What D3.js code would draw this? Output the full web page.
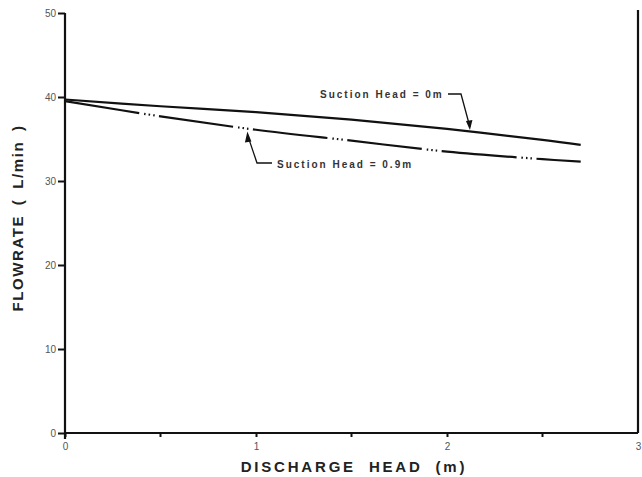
<!DOCTYPE html>
<html><head><meta charset="utf-8">
<script src="https://cdn.jsdelivr.net/npm/d3@7"></script>
<style>body{margin:0;background:#fff}svg{display:block}</style>
</head><body>
<script>
const xTicks = [0, 1, 2, 3];
const xMinor = [0.5, 1.5, 2.5];
const yTicks = [0, 10, 20, 30, 40, 50];
const head = [0, 0.5, 1, 1.5, 2, 2.5, 2.7];
const flowSuction0 = [39.7, 38.9, 38.2, 37.3, 36.2, 34.9, 34.3];
const flowSuction09 = [39.5, 37.7, 36.1, 34.8, 33.5, 32.6, 32.3];
const labels = ["Suction Head = 0m", "Suction Head = 0.9m"];

const W = 642, H = 477;
const svg = d3.select("body").append("svg").attr("width", W).attr("height", H);
const x = d3.scaleLinear().domain([0, 3]).range([65, 638]);
const y = d3.scaleLinear().domain([0, 50]).range([433, 13]);
const ink = "#111";

// axes
const gx = svg.append("g").attr("transform", `translate(0,${y(0)})`)
  .call(d3.axisBottom(x).tickValues(xTicks).tickSize(4).tickPadding(6).tickFormat(d3.format("d")));
const gy = svg.append("g").attr("transform", `translate(${x(0)},0)`)
  .call(d3.axisLeft(y).tickValues(yTicks).tickSize(7).tickPadding(2).tickFormat(d3.format("d")));
[gx, gy].forEach(g => {
  g.select(".domain").attr("stroke", ink).attr("stroke-width", 2.2);
  g.selectAll(".tick line").attr("stroke", ink).attr("stroke-width", 2);
  g.selectAll(".tick text").attr("fill", "#555").attr("font-family", "Liberation Sans, Arial, sans-serif").attr("font-size", 10);
});
gx.select(".domain").attr("d", `M${x(0)},0H${x(3)}`);
gy.select(".domain").attr("d", `M0,${y(50)}V${y(0)+6}`);
gx.selectAll(".tick").filter(d => d === 3).select("line").remove();
svg.append("g").selectAll("line").data(xMinor).join("line")
  .attr("x1", d => x(d)).attr("x2", d => x(d)).attr("y1", y(0)).attr("y2", y(0) + 4)
  .attr("stroke", ink).attr("stroke-width", 2);
// right border
svg.append("line").attr("x1", x(3)).attr("x2", x(3)).attr("y1", y(50) - 3).attr("y2", y(0))
  .attr("stroke", ink).attr("stroke-width", 2.2);

// lines
const line = d3.line().x((d, i) => x(head[i])).y(d => y(d)).curve(d3.curveCatmullRom);
svg.append("path").attr("d", line(flowSuction0)).attr("fill", "none").attr("stroke", ink).attr("stroke-width", 2.2);
svg.append("path").attr("d", line(flowSuction09)).attr("fill", "none").attr("stroke", ink).attr("stroke-width", 2.2)
  .attr("stroke-dasharray", "75,5,1.5,3,1.5,3,1.5,4.5");

// annotations
const font = "Liberation Sans, Arial, sans-serif";
const ann = (t, xx, yy) => svg.append("text").attr("x", xx).attr("y", yy).text(t)
  .attr("font-family", font).attr("font-size", 10).attr("font-weight", "bold").attr("fill", "#333").attr("letter-spacing", 2);
ann(labels[0], 320, 98);
const t0 = [x(2.12), y(35.95)];
svg.append("path").attr("d", `M448,94H461L${t0[0]},${t0[1] - 4}`).attr("fill", "none").attr("stroke", ink).attr("stroke-width", 1.3);
svg.append("path").attr("d", `M${t0[0] - 4},${t0[1] - 10}L${t0[0]},${t0[1] - 1}L${t0[0] + 2.5},${t0[1] - 11}Z`).attr("fill", ink);

ann(labels[1], 277, 168);
const t1 = [x(0.955), y(36.0)];
svg.append("path").attr("d", `M272,163H257L${t1[0]},${t1[1] + 4}`).attr("fill", "none").attr("stroke", ink).attr("stroke-width", 1.3);
svg.append("path").attr("d", `M${t1[0] - 2.5},${t1[1] + 12}L${t1[0]},${t1[1] + 1}L${t1[0] + 4},${t1[1] + 11}Z`).attr("fill", ink);

// axis titles
svg.append("text").attr("x", 354).attr("y", 472).attr("text-anchor", "middle").text("DISCHARGE HEAD (m)")
  .attr("font-family", font).attr("font-size", 15).attr("font-weight", "bold").attr("fill", "#222")
  .attr("letter-spacing", 2.8).attr("word-spacing", 6);
svg.append("text").attr("transform", "translate(23,218) rotate(-90)").attr("text-anchor", "middle").text("FLOWRATE ( L/min )")
  .attr("font-family", font).attr("font-size", 15).attr("font-weight", "bold").attr("fill", "#222")
  .attr("letter-spacing", 1.6).attr("word-spacing", 4);
</script>
</body></html>
